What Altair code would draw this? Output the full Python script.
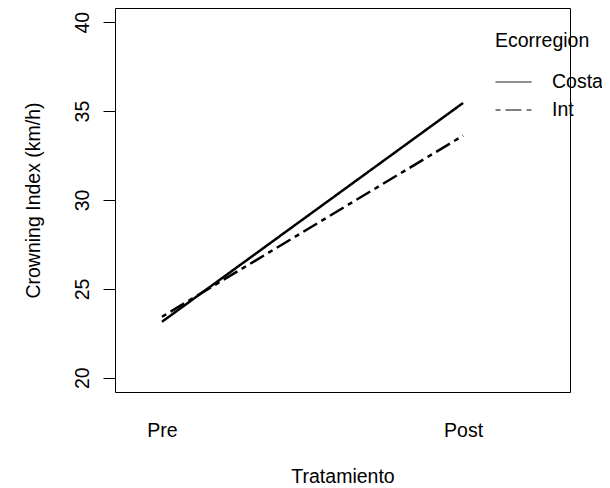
import altair as alt
import pandas as pd

tratamiento = ["Pre", "Post"]
ecorregion = ["Costa", "Int"]
costa = [23.15, 35.46]
interior = [23.43, 33.62]

rows = []
for serie, vals in zip(ecorregion, [costa, interior]):
    for i, (t, v) in enumerate(zip(tratamiento, vals)):
        rows.append({"Tratamiento": t, "pos": i + 1, "Ecorregion": serie, "CI": v})
df = pd.DataFrame(rows)

FONT = "Liberation Sans"
FS = 19.5

label_expr = "datum.value == 1 ? 'Pre' : 'Post'"

chart = alt.Chart(df).mark_line(color="black", strokeWidth=2.5).encode(
    x=alt.X("pos:Q",
            scale=alt.Scale(domain=[0.844, 2.355], nice=False, zero=False),
            axis=alt.Axis(title="Tratamiento", values=[1, 2], labelExpr=label_expr,
                          ticks=False, tickSize=0, domain=False, grid=False,
                          labelFont=FONT, labelFontSize=FS, labelColor="black",
                          labelBaseline="alphabetic", labelPadding=44,
                          titleFont=FONT, titleFontSize=FS, titleFontWeight="normal",
                          titleColor="black", titleBaseline="alphabetic", titleY=90)),
    y=alt.Y("CI:Q",
            scale=alt.Scale(domain=[19.2, 40.8], nice=False, zero=False),
            axis=alt.Axis(title="Crowning Index (km/h)", values=[20, 25, 30, 35, 40],
                          domain=False, grid=False, tickSize=12, tickColor="black",
                          labelAngle=270, labelAlign="center", labelBaseline="alphabetic",
                          labelPadding=14.5, labelFont=FONT, labelFontSize=FS,
                          labelColor="black",
                          titleFont=FONT, titleFontSize=FS, titleFontWeight="normal",
                          titleColor="black", titleBaseline="alphabetic", titleX=-76)),
    strokeDash=alt.StrokeDash("Ecorregion:N",
            scale=alt.Scale(domain=ecorregion, range=[[1, 0], [5, 5, 16, 5]]),
            legend=alt.Legend(title="Ecorregion", orient="none", legendX=380, legendY=24,
                              symbolType="stroke", symbolSize=1296, symbolStrokeWidth=1,
                              symbolStrokeColor="black", labelOffset=20,
                              rowPadding=-13, titlePadding=12, padding=0,
                              titleFont=FONT, titleFontSize=FS, titleFontWeight="normal",
                              titleColor="black", labelFont=FONT, labelFontSize=FS,
                              labelColor="black")),
    detail="Ecorregion:N",
).properties(
    width=455, height=384,
    autosize=alt.AutoSizeParams(type="none"),
    padding={"left": 107, "top": 0, "right": 32, "bottom": 94},
).configure_view(stroke="black", strokeWidth=1)

chart.save("out.html", embed_options={"renderer": "svg", "actions": False})
